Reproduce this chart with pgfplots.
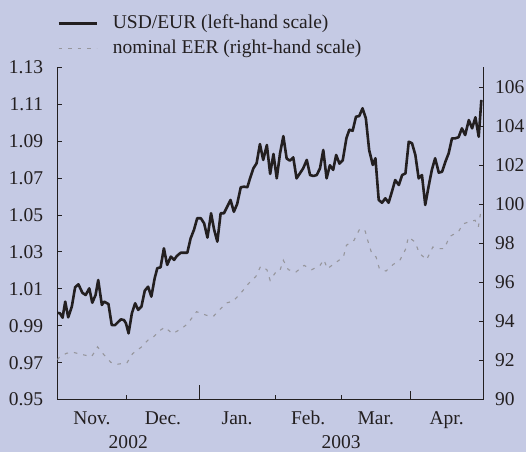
\documentclass[border=0pt]{standalone}
\usepackage{pgfplots}
\pgfplotsset{compat=1.18}
\usepackage{pgfplotstable}
\usepackage{fontspec}
\setmainfont{Liberation Serif}

\definecolor{bg}{RGB}{197,202,228}
\definecolor{ink}{RGB}{35,31,32}
\definecolor{eer}{RGB}{150,150,156}

% x = business days since 1 Nov 2002
\pgfplotstableread{
x y
0.0 0.9970
0.8 0.9968
1.6 0.9944
2.4 1.0031
3.3 0.9946
4.4 1.0004
5.4 1.0109
6.4 1.0125
7.6 1.0079
8.6 1.0067
9.7 1.0103
10.6 1.0025
11.6 1.0067
12.4 1.0148
13.5 1.0013
14.2 1.0031
15.5 1.0018
16.5 0.9904
17.5 0.9904
18.5 0.9922
19.3 0.9935
20.2 0.9931
20.8 0.9914
21.6 0.9859
22.6 0.9968
23.6 1.0022
24.5 0.9986
25.5 1.0004
26.5 1.0090
27.5 1.0112
28.5 1.0058
29.5 1.0157
30.3 1.0212
31.3 1.0217
32.3 1.0320
33.3 1.0230
34.4 1.0275
35.4 1.0257
36.2 1.0278
37.4 1.0296
38.4 1.0296
39.4 1.0296
40.4 1.0374
41.4 1.0419
42.4 1.0483
43.5 1.0483
44.5 1.0455
45.5 1.0378
46.6 1.0510
47.5 1.0423
48.5 1.0356
49.5 1.0510
50.5 1.0510
51.5 1.0546
52.5 1.0582
53.5 1.0518
54.5 1.0560
55.6 1.0651
56.6 1.0654
57.6 1.0651
58.4 1.0699
59.4 1.0753
60.4 1.0781
61.4 1.0885
62.4 1.0799
63.5 1.0880
64.5 1.0723
65.5 1.0831
66.5 1.0699
67.5 1.0835
68.5 1.0928
69.5 1.0807
70.5 1.0795
71.5 1.0813
72.5 1.0699
73.5 1.0726
74.5 1.0753
75.6 1.0799
76.6 1.0717
77.6 1.0712
78.6 1.0717
79.6 1.0753
80.6 1.0853
81.6 1.0699
82.6 1.0770
83.6 1.0745
84.5 1.0826
85.5 1.0779
86.5 1.0797
87.6 1.0916
88.5 1.0963
89.5 1.0957
90.5 1.1033
91.5 1.1037
92.5 1.1079
93.5 1.1025
94.5 1.0853
95.6 1.0772
96.4 1.0808
97.4 1.0582
98.4 1.0567
99.4 1.0591
100.4 1.0567
101.4 1.0627
102.4 1.0690
103.5 1.0663
104.5 1.0717
105.5 1.0726
106.5 1.0898
107.5 1.0889
108.5 1.0826
109.5 1.0699
110.5 1.0717
111.5 1.0555
112.5 1.0654
113.5 1.0745
114.5 1.0808
115.6 1.0730
116.6 1.0735
117.6 1.0789
118.6 1.0835
119.6 1.0916
120.6 1.0916
121.6 1.0922
122.6 1.0970
123.6 1.0934
124.7 1.1015
125.7 1.0970
126.7 1.1030
127.7 1.0925
128.5 1.1124
}\usdeur

\pgfplotstableread{
x y
0.0 92.04
0.8 92.20
2.8 92.37
4.6 92.43
7.4 92.31
10.4 92.20
12.2 92.70
13.9 92.34
16.2 91.91
17.8 91.80
21.1 91.88
22.8 92.35
25.4 92.68
27.8 93.10
29.1 93.20
30.8 93.50
32.6 93.71
34.9 93.37
37.8 93.65
39.6 93.90
40.2 94.05
42.2 94.50
45.3 94.31
47.3 94.26
49.0 94.56
51.1 94.94
53.3 95.04
55.6 95.45
57.9 95.93
60.2 96.31
61.6 96.82
63.5 96.65
64.5 96.10
66.0 96.48
67.3 96.53
68.5 97.13
70.0 96.65
72.3 96.53
74.8 96.87
77.1 96.65
79.6 96.87
80.8 97.16
81.8 96.70
83.8 96.94
86.7 97.30
87.6 97.90
89.9 98.15
91.7 98.75
93.3 98.63
94.2 98.07
95.3 97.47
96.6 97.30
97.6 96.70
99.6 96.58
101.8 96.92
103.8 97.13
105.5 97.68
106.4 98.32
108.4 98.07
109.7 97.50
111.9 97.16
113.8 97.81
115.2 97.73
117.2 97.73
119.0 98.36
121.5 98.58
123.0 99.00
125.6 99.14
126.6 99.18
127.6 98.84
128.3 99.60
}\eertab

\begin{document}
\fontsize{19.5bp}{23bp}\selectfont
\begin{tikzpicture}
\fill[bg] (0bp,0bp) rectangle (526bp,452bp);
\useasboundingbox (0bp,0bp) rectangle (526bp,452bp);
\pgfplotsset{
  common/.style={
    scale only axis, width=425.7bp, height=332.1bp,
    at={(57.3bp,52.4bp)}, anchor=south west,
    xmin=0, xmax=129,
    axis line style={-, ink, line width=1bp},
    tick style={ink, line width=1bp},
    tick align=inside,
    major tick length=4bp,
    ticklabel style={font=\fontsize{19.5bp}{23bp}\selectfont, text=ink},
    /pgf/number format/assume math mode=true,
  },
}
\begin{axis}[common,
  axis x line*=bottom, axis y line*=left,
  major tick length=4.5bp,
  ymin=0.95, ymax=1.13,
  ytick={0.95,0.97,0.99,1.01,1.03,1.05,1.07,1.09,1.11,1.13},
  /pgf/number format/fixed,
  /pgf/number format/fixed zerofill,
  /pgf/number format/precision=2,
  yticklabel style={anchor=east, inner sep=0pt, xshift=-14bp},
  xtick={21,66,86},
  xticklabels={},
  extra x ticks={10.5,32,54.5,76,96.5,118},
  extra x tick labels={Nov.,Dec.,Jan.,Feb.,Mar.,Apr.},
  extra x tick style={major tick length=0bp, tick style={draw=none},
    xticklabel style={anchor=base, inner sep=0pt, yshift=-24.5bp}},
  legend cell align=left,
  legend image code/.code={\draw[#1] (0bp,0bp) -- (38bp,0bp);},
  legend style={draw=none, fill=none, inner sep=0pt, outer sep=0pt,
    at={(axis description cs:0,1)}, anchor=south west, yshift=10bp,
    row sep=7.3bp, column sep=15bp,
    nodes={inner sep=0pt, text height=13.5bp, text depth=4.2bp,
      font=\fontsize{19.5bp}{23bp}\selectfont, text=ink}},
  clip=false,
]
\addplot[ink, line width=2.6bp, line join=round] table {\usdeur};
\addlegendentry{USD/EUR (left-hand scale)}
\addlegendimage{eer, line width=1.1bp, dash pattern=on 3.5bp off 6bp}
\addlegendentry{nominal EER (right-hand scale)}
\node[anchor=base, text=ink, yshift=-48.8bp] at (axis cs:21.5,0.95) {2002};
\node[anchor=base, text=ink, yshift=-48.8bp] at (axis cs:86,0.95) {2003};
\end{axis}
\begin{axis}[common,
  axis x line*=bottom, axis y line*=right,
  ymin=90, ymax=107,
  ytick={90,92,94,96,98,100,102,104,106},
  yticklabel style={anchor=west, inner sep=0pt, xshift=12bp},
  xtick=\empty,
  extra x ticks={43},
  extra x tick labels={},
  extra x tick style={major tick length=15bp},
]
\addplot[eer, line width=1.1bp, dash pattern=on 3.5bp off 6bp] table {\eertab};
\end{axis}
% quarter tick (1 April) on the time axis
\begin{axis}[common,
  axis x line*=bottom, axis y line=none,
  ymin=0, ymax=1,
  xtick={107}, xticklabels={},
  major tick length=9bp,
]
\end{axis}
\end{tikzpicture}
\end{document}
